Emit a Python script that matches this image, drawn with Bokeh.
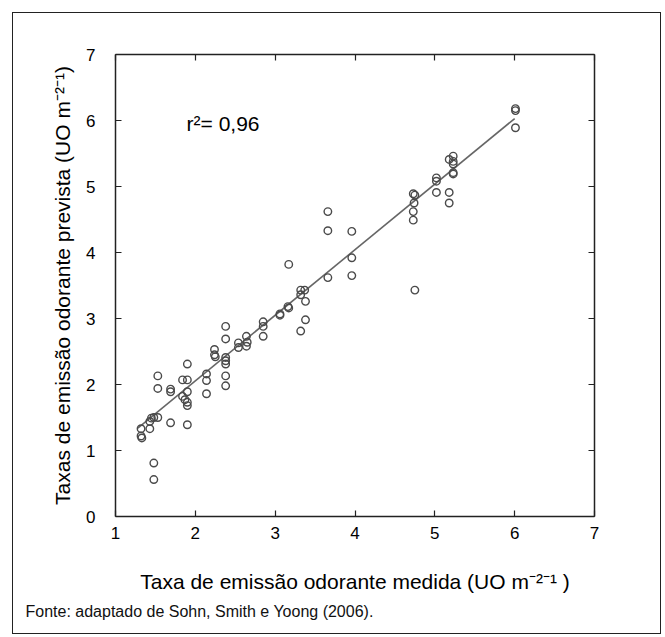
from bokeh.plotting import figure
from bokeh.models import Range1d, FixedTicker, LinearAxis, Label, Title
from bokeh.embed import file_html
from bokeh.resources import INLINE

# measured emission rates (x) and predicted (y), UO m-2-1
medida = [1.32, 1.32, 1.33, 1.43, 1.43, 1.45, 1.48, 1.53, 1.48, 1.48, 1.53, 1.53,
          1.69, 1.69, 1.69, 1.84, 1.84, 1.87, 1.90, 1.90, 1.90, 1.90, 1.90, 1.90,
          2.14, 2.14, 2.14, 2.24, 2.24, 2.25, 2.38, 2.38, 2.38, 2.38, 2.38, 2.38, 2.38,
          2.54, 2.54, 2.64, 2.64, 2.65, 2.85, 2.85, 2.85, 3.06, 3.06, 3.16, 3.17, 3.17,
          3.32, 3.32, 3.37, 3.38, 3.38, 3.32, 3.66, 3.66, 3.66, 3.96, 3.96, 3.96,
          4.73, 4.75, 4.74, 4.73, 4.73, 4.75, 5.02, 5.02, 5.02, 5.18, 5.18, 5.18,
          5.23, 5.23, 5.23, 5.23, 5.23, 6.01, 6.01, 6.01]
prevista = [1.33, 1.22, 1.19, 1.33, 1.44, 1.49, 1.50, 1.50, 0.81, 0.56, 2.13, 1.94,
            1.93, 1.89, 1.42, 2.07, 1.82, 1.77, 2.31, 2.07, 1.89, 1.73, 1.68, 1.39,
            2.16, 2.06, 1.86, 2.53, 2.45, 2.42, 2.88, 2.69, 2.41, 2.36, 2.31, 2.13, 1.98,
            2.63, 2.56, 2.73, 2.58, 2.64, 2.95, 2.88, 2.73, 3.07, 3.05, 3.18, 3.16, 3.82,
            3.43, 3.36, 3.43, 3.26, 2.98, 2.81, 4.62, 4.33, 3.62, 4.32, 3.92, 3.65,
            4.89, 4.87, 4.75, 4.62, 4.49, 3.43, 5.13, 5.08, 4.91, 5.41, 4.91, 4.75,
            5.46, 5.38, 5.34, 5.21, 5.19, 6.18, 6.15, 5.89]

# regression line end points
fit_x = [1.28, 6.00]
fit_y = [1.34, 6.03]

x_ticks = [1, 2, 3, 4, 5, 6, 7]
y_ticks = [0, 1, 2, 3, 4, 5, 6, 7]

FONT = "Liberation Sans"

p = figure(width=649, height=622, output_backend="svg", toolbar_location=None,
           x_range=Range1d(1, 7), y_range=Range1d(0, 7),
           x_axis_location=None, y_axis_location=None,
           min_border_left=102, min_border_right=68, min_border_top=41, min_border_bottom=119)
p.margin = (12, 0, 0, 12)
p.styles = {"border": "1px solid #222", "box-sizing": "border-box"}
p.grid.visible = False
p.outline_line_color = None
p.background_fill_color = "white"
p.border_fill_color = "white"

def style_axis(ax, ticks, show_labels):
    ax.ticker = FixedTicker(ticks=ticks)
    ax.axis_line_color = "#222222"
    ax.axis_line_width = 1.5
    ax.major_tick_line_color = "#222222"
    ax.major_tick_line_width = 1.2
    ax.major_tick_in = 6
    ax.major_tick_out = 0
    ax.minor_tick_line_color = None
    ax.major_label_text_font = FONT
    ax.major_label_text_font_size = "17px"
    ax.major_label_text_color = "black" if show_labels else None
    ax.axis_label_text_font = FONT
    ax.axis_label_text_font_size = "21px"
    ax.axis_label_text_font_style = "normal"
    ax.axis_label_text_color = "black"

xb = LinearAxis(axis_label="Taxa de emissão odorante medida (UO m⁻²⁻¹ )")
style_axis(xb, x_ticks, True)
xb.major_label_standoff = 10
xb.axis_label_standoff = 28
p.add_layout(xb, "below")

src = Title(text="Fonte: adaptado de Sohn, Smith e Yoong (2006).", align="left",
            offset=-90, standoff=10, text_font=FONT, text_font_size="16px",
            text_font_style="normal", text_color="#111111")
p.add_layout(src, "below")

yl = LinearAxis(axis_label="Taxas de emissão odorante prevista (UO m⁻²⁻¹)")
style_axis(yl, y_ticks, True)
yl.major_label_standoff = 20
yl.axis_label_standoff = 9
p.add_layout(yl, "left")

xt = LinearAxis()
style_axis(xt, x_ticks, False)
p.add_layout(xt, "above")

yr = LinearAxis()
style_axis(yr, y_ticks, False)
p.add_layout(yr, "right")

p.line(fit_x, fit_y, line_color="#666666", line_width=1.6)
p.scatter(medida, prevista, marker="circle", size=7.5, fill_color=None,
          line_color="#4a4a4a", line_width=1.4)

p.add_layout(Label(x=1.89, y=5.95, text="r²= 0,96", text_font=FONT,
                   text_font_size="21px", text_baseline="middle", text_color="black"))

open("out.html", "w").write(file_html(p, INLINE))
